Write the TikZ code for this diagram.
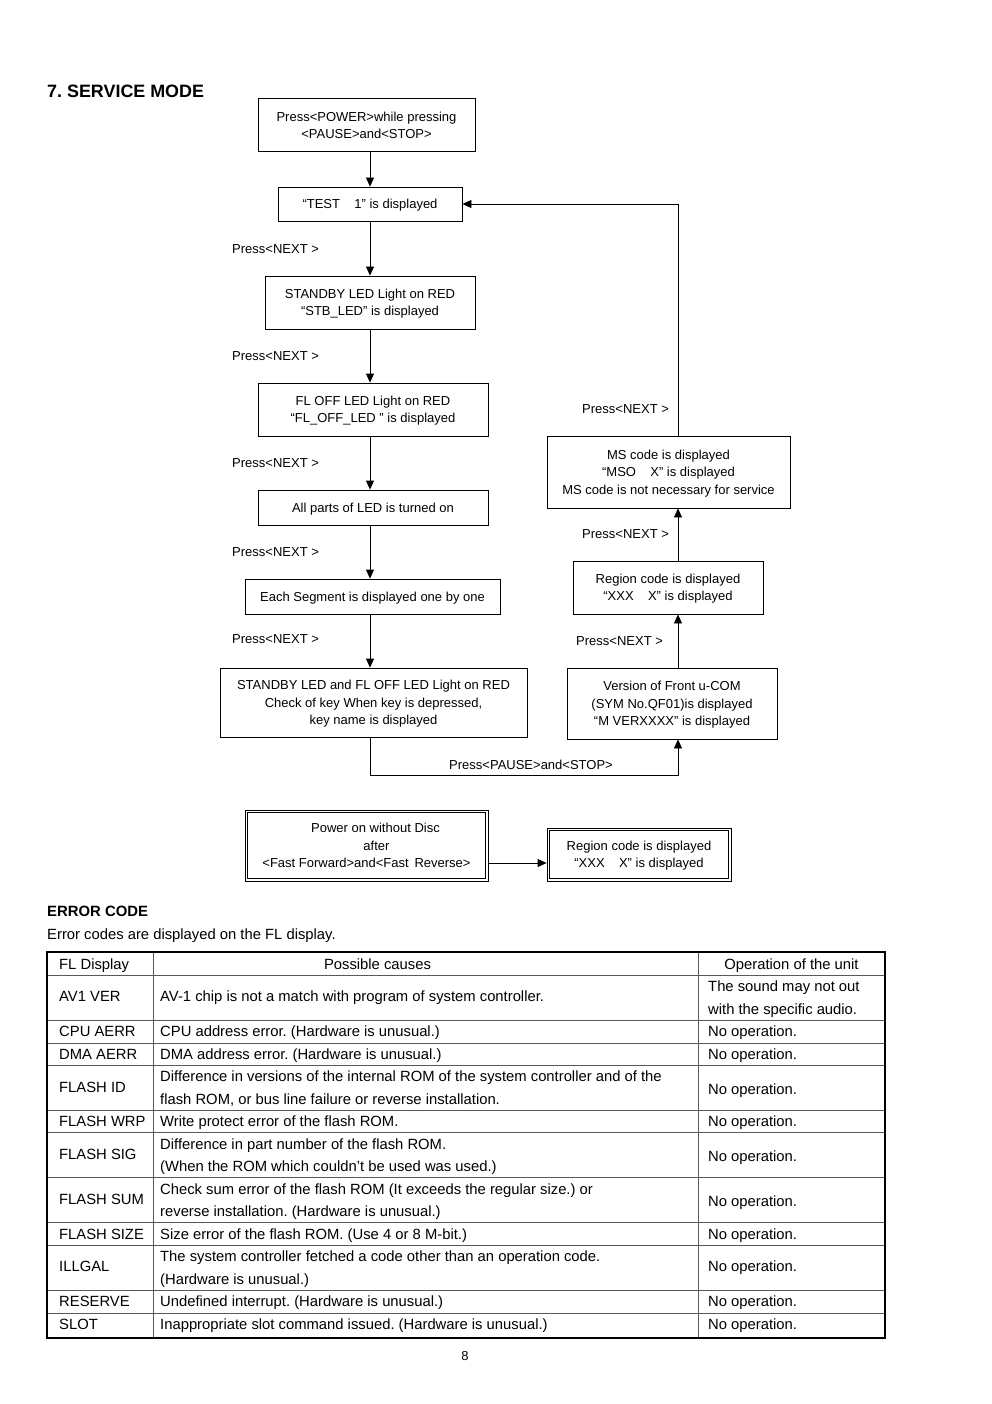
\documentclass[tikz,border=0pt]{standalone}
\usepackage{fontspec}
\setmainfont{Liberation Sans}
\usetikzlibrary{arrows.meta}
\frenchspacing
\begin{document}
\begin{tikzpicture}[x=1pt,y=-1pt,
  box/.style={draw,line width=0.8pt,inner sep=0pt,align=center,text depth=0pt,font=\fontsize{13}{17.5}\selectfont},
  arr/.style={line width=0.8pt,-{Triangle[length=9pt,width=8pt]}},
  lbl/.style={inner sep=0pt,anchor=west,font=\fontsize{13}{15}\selectfont,text height=9.3pt,text depth=0pt},
  tc/.style={inner sep=0pt,anchor=west,text height=10.6pt,text depth=0pt,font=\fontsize{14.8}{17}\selectfont},
  tcc/.style={tc,anchor=center},
  gridl/.style={line width=1pt,black!65}]
\useasboundingbox (0,0) rectangle (992,1404);
% title
\node[inner sep=0pt,anchor=west,font=\fontsize{17.9}{20}\selectfont\bfseries,text height=12.8pt,text depth=0pt] (title) at (47,91) {7. SERVICE MODE};
% main column
\node[box,minimum width=217pt,minimum height=53pt] (b1) at (366.5,124.5) {\raisebox{-1.5pt}{Press<POWER>while pressing}\\\raisebox{-1.5pt}{<PAUSE>and<STOP>}};
\node[box,minimum width=184pt,minimum height=34pt] (b2) at (370,204) {“TEST\hspace{1.1em}1” is displayed};
\node[box,minimum width=210pt,minimum height=53pt] (b3) at (370,302.5) {STANDBY LED Light on RED\\“STB\_LED” is displayed};
\node[box,minimum width=230pt,minimum height=53pt] (b4) at (373,409.5) {FL OFF LED Light on RED\\“FL\_OFF\_LED ” is displayed};
\node[box,minimum width=230pt,minimum height=35pt] (b5) at (373,507.5) {All parts of LED is turned on};
\node[box,minimum width=255pt,minimum height=35pt] (b6) at (372.5,596.5) {Each Segment is displayed one by one};
\node[box,minimum width=307pt,minimum height=69pt] (b7) at (373.5,702.5) {STANDBY LED and FL OFF LED Light on RED\\Check of key When key is depressed,\\key name is displayed};
% right column
\node[box,minimum width=210pt,minimum height=71pt] (b8) at (672,703.5) {Version of Front u-COM\\(SYM No.QF01)is displayed\\“M VERXXXX” is displayed};
\node[box,minimum width=190pt,minimum height=53pt] (b9) at (668,587.5) {Region code is displayed\\“XXX\hspace{1.1em}X” is displayed};
\node[box,minimum width=243pt,minimum height=72pt] (b10) at (668.5,472) {MS code is displayed\\“MSO\hspace{1.1em}X” is displayed\\MS code is not necessary for service};
\coordinate (rx) at (678,0);
% labels
\node[lbl] (l1) at (232,249) {Press<NEXT >};
\node[lbl] (l2) at (232,356) {Press<NEXT >};
\node[lbl] (l3) at (232,463) {Press<NEXT >};
\node[lbl] (l4) at (232,552) {Press<NEXT >};
\node[lbl] (l5) at (232,639) {Press<NEXT >};
\node[lbl] (l6) at (582,409) {Press<NEXT >};
\node[lbl] (l7) at (582,534) {Press<NEXT >};
\node[lbl] (l8) at (576,641) {Press<NEXT >};
\node[lbl,anchor=center] (l9) at (531,765) {Press<PAUSE>and<STOP>};
% connectors
\draw[arr] (b1.south -| b2.north) -- (b2.north);
\draw[arr] (b2.south) -- (b3.north);
\draw[arr] (b3.south) -- (b4.north -| b3.south);
\draw[arr] (b4.south -| b3.south) -- (b5.north -| b3.south);
\draw[arr] (b5.south -| b3.south) -- (b6.north -| b3.south);
\draw[arr] (b6.south -| b3.south) -- (b7.north -| b3.south);
\draw[arr] (b7.south -| b3.south) -- ++(0,38) -| (b8.south -| rx);
\draw[arr] (b8.north -| rx) -- (b9.south -| rx);
\draw[arr] (b9.north -| rx) -- (b10.south -| rx);
\draw[arr] (b10.north -| rx) |- (b2.east);
% double boxes
\node[box,minimum width=243pt,minimum height=71pt] (b11) at (366.5,845.5) {\hspace{18pt}Power on without Disc\\\hspace{20pt}after\\<Fast Forward>and<Fast\ \,Reverse>};
\draw[line width=0.8pt] ([xshift=3pt,yshift=-3pt]b11.north west) rectangle ([xshift=-3pt,yshift=3pt]b11.south east);
\node[box,minimum width=184pt,minimum height=53pt] (b12) at (639,854.5) {Region code is displayed\\“XXX\hspace{1.1em}X” is displayed};
\draw[line width=0.8pt] ([xshift=3pt,yshift=-3pt]b12.north west) rectangle ([xshift=-3pt,yshift=3pt]b12.south east);
\draw[arr] ([yshift=-17.5pt]b11.east) -- ([yshift=-17.5pt]b11.east -| b12.west);
% error code
\node[inner sep=0pt,anchor=west,font=\fontsize{14.9}{17}\selectfont\bfseries,text height=10.7pt,text depth=0pt] (ec) at (47,911) {ERROR CODE};
\node[tc] (ecd) at (47,934) {Error codes are displayed on the FL display.};
% table grid
\draw[gridl] (153,952) -- (153,1338);
\draw[gridl] (698,952) -- (698,1338);
\foreach \yy in {975,1020,1043,1065,1110,1132,1177,1222,1245,1290,1313}
  \draw[gridl] (47,\yy) -- (885,\yy);
\draw[line width=1.4pt] (47,952) rectangle (885,1338);
% table text
\node[tc] (h1) at (59,964) {FL Display};
\node[tcc] (h2) at (377.5,964) {Possible causes};
\node[tcc] (h3) at (791.5,964) {Operation of the unit};
\node[tc] (a1) at (59,996) {AV1 VER};
\node[tc] (a2) at (160,996) {AV-1 chip is not a match with program of system controller.};
\node[tc] (a3) at (708,986) {The sound may not out};
\node[tc] (a4) at (708,1009) {with the specific audio.};
\node[tc] (c1) at (59,1031) {CPU AERR};
\node[tc] (c2) at (160,1031) {CPU address error. (Hardware is unusual.)};
\node[tc] (c3) at (708,1031) {No operation.};
\node[tc] (d1) at (59,1054) {DMA AERR};
\node[tc] (d2) at (160,1054) {DMA address error. (Hardware is unusual.)};
\node[tc] (d3) at (708,1054) {No operation.};
\node[tc] (f1) at (59,1087) {FLASH ID};
\node[tc] (f2) at (160,1076) {Difference in versions of the internal ROM of the system controller and of the};
\node[tc] (f2b) at (160,1099) {flash ROM, or bus line failure or reverse installation.};
\node[tc] (f3) at (708,1089) {No operation.};
\node[tc] (w1) at (59,1121) {FLASH WRP};
\node[tc] (w2) at (160,1121) {Write protect error of the flash ROM.};
\node[tc] (w3) at (708,1121) {No operation.};
\node[tc] (s1) at (59,1154) {FLASH SIG};
\node[tc] (s2) at (160,1144) {Difference in part number of the flash ROM.};
\node[tc] (s2b) at (160,1166) {(When the ROM which couldn't be used was used.)};
\node[tc] (s3) at (708,1156) {No operation.};
\node[tc] (m1) at (59,1199) {FLASH SUM};
\node[tc] (m2) at (160,1189) {Check sum error of the flash ROM (It exceeds the regular size.) or};
\node[tc] (m2b) at (160,1211) {reverse installation. (Hardware is unusual.)};
\node[tc] (m3) at (708,1201) {No operation.};
\node[tc] (z1) at (59,1234) {FLASH SIZE};
\node[tc] (z2) at (160,1234) {Size error of the flash ROM. (Use 4 or 8 M-bit.)};
\node[tc] (z3) at (708,1234) {No operation.};
\node[tc] (i1) at (59,1266) {ILLGAL};
\node[tc] (i2) at (160,1256) {The system controller fetched a code other than an operation code.};
\node[tc] (i2b) at (160,1279) {(Hardware is unusual.)};
\node[tc] (i3) at (708,1266) {No operation.};
\node[tc] (r1) at (59,1301) {RESERVE};
\node[tc] (r2) at (160,1301) {Undefined interrupt. (Hardware is unusual.)};
\node[tc] (r3) at (708,1301) {No operation.};
\node[tc] (t1) at (59,1324) {SLOT};
\node[tc] (t2) at (160,1324) {Inappropriate slot command issued. (Hardware is unusual.)};
\node[tc] (t3) at (708,1324) {No operation.};
\node[tcc,font=\fontsize{13}{15}\selectfont,text height=9.3pt] (pg) at (465,1356) {8};
\end{tikzpicture}
\end{document}
